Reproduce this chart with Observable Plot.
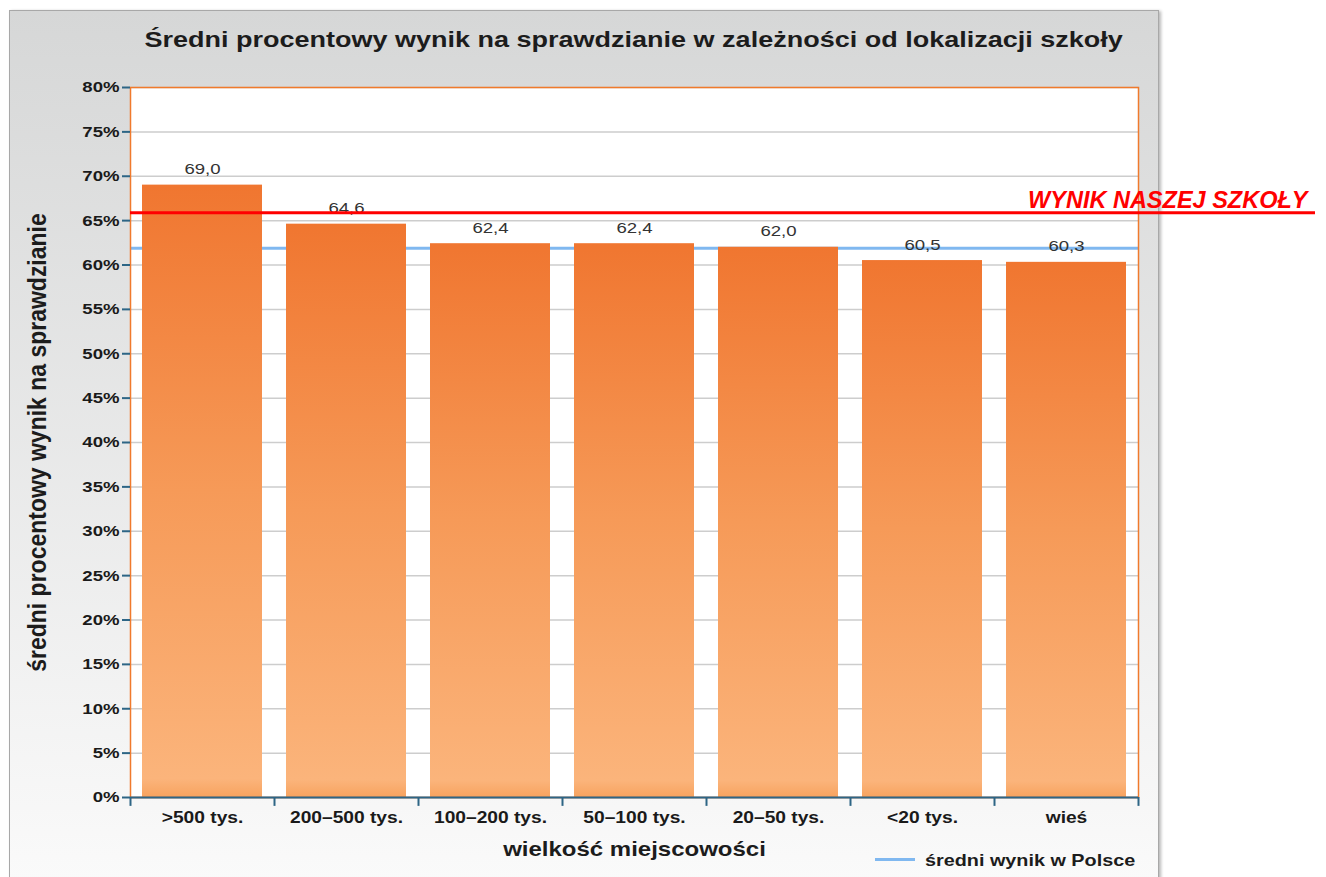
<!DOCTYPE html>
<html>
<head>
<meta charset="utf-8">
<script src="https://cdn.jsdelivr.net/npm/d3@7"></script>
<script src="https://cdn.jsdelivr.net/npm/@observablehq/plot@0.6"></script>
<style>
  body { margin: 0; background: #ffffff; font-family: "Liberation Sans", Arial, sans-serif; }
  #wrap { position: relative; width: 1326px; height: 877px; overflow: hidden; }
  #panel { position: absolute; left: 9px; top: 10px; width: 1148px; height: 900px;
           border: 1.5px solid #a8a8a8;
           background: linear-gradient(#d6d7d7 0px, #fafafa 870px);
           box-shadow: 2px 1px 3px rgba(0,0,0,0.28); }
  #title { position: absolute; left: 130px; width: 1008px; top: 29px; text-align: center;
           font-weight: bold; font-size: 22.5px; line-height: 1; color: #1c1c1c; white-space: nowrap; }
  #title span { display: inline-block; transform: scaleX(1.2); transform-origin: center; }
  #chart { position: absolute; left: 0; top: 0; }
  #legline { position: absolute; left: 875px; top: 858px; width: 40px; height: 3px; background: #80b8f0; }
  #legtext { position: absolute; left: 925px; top: 852px; font-weight: bold; font-size: 16.5px; line-height: 1;
             color: #1c1c1c; white-space: nowrap; transform: scaleX(1.2); transform-origin: left center; }
</style>
</head>
<body>
<div id="wrap">
  <div id="panel"></div>
  <div id="title"><span id="titleText"></span></div>
  <div id="chart"></div>
  <div id="legline"></div>
  <div id="legtext"></div>
</div>
<script>
// ---- data ----
const chartTitle = "Średni procentowy wynik na sprawdzianie w zależności od lokalizacji szkoły";
const yTitle = "średni procentowy wynik na sprawdzianie";
const xTitle = "wielkość miejscowości";
const legendLabel = "średni wynik w Polsce";
const schoolLabel = "WYNIK NASZEJ SZKOŁY";
const categories = [">500 tys.", "200–500 tys.", "100–200 tys.", "50–100 tys.", "20–50 tys.", "<20 tys.", "wieś"];
const values = [69.0, 64.6, 62.4, 62.4, 62.0, 60.5, 60.3];
const polandMean = 61.9;
const schoolResult = 65.9;
const yTicks = [0, 5, 10, 15, 20, 25, 30, 35, 40, 45, 50, 55, 60, 65, 70, 75, 80];

const data = categories.map((c, i) => ({category: c, value: values[i]}));

document.getElementById("titleText").textContent = chartTitle;
document.getElementById("legtext").textContent = legendLabel;

// ---- layout ----
const W = 1326, H = 877, mL = 130, mR = 188, mT = 87, mB = 80;
const halfStep = (W - mL - mR) / categories.length / 2;
const teal = "#2d6585";

const plot = Plot.plot({
  width: W, height: H,
  marginLeft: mL, marginRight: mR, marginTop: mT, marginBottom: mB,
  style: {fontFamily: "'Liberation Sans', Arial, sans-serif", background: "transparent", overflow: "visible"},
  x: {type: "band", domain: categories, padding: 0},
  y: {domain: [0, 80]},
  marks: [
    Plot.frame({fill: "#ffffff", stroke: "none"}),
    Plot.gridY(yTicks, {stroke: "#cdcdcd", strokeOpacity: 1, strokeWidth: 1.5}),
    Plot.ruleY([polandMean], {stroke: "#80b8f0", strokeWidth: 3}),
    Plot.barY(data, {x: "category", y: "value", fill: "url(#barGrad)", insetLeft: 12, insetRight: 12}),
    Plot.text(data, {x: "category", y: "value", text: d => d.value.toFixed(1).replace(".", ","),
      lineAnchor: "bottom", dy: -11, fontSize: 15.5, fill: "#333333"}),
    Plot.frame({stroke: "#f07a2c", strokeWidth: 1.5}),
    Plot.axisY({ticks: yTicks, tickFormat: d => d + "%", tickSize: 8, tickPadding: 3,
      stroke: teal, strokeWidth: 2, fill: "#1a1a1a", fontSize: 15.5, fontWeight: "bold", label: null}),
    Plot.axisX({tickSize: 0, tickPadding: 14, fill: "#1a1a1a", fontSize: 16, fontWeight: "bold", label: null}),
    Plot.ruleY([0], {stroke: teal, strokeWidth: 2}),
    Plot.ruleX(categories, {x: d => d, y1: 0, y2: -1, dx: -halfStep, stroke: teal, strokeWidth: 2}),
    Plot.ruleX(categories.slice(-1), {x: d => d, y1: 0, y2: -1, dx: halfStep, stroke: teal, strokeWidth: 2}),
    Plot.ruleY([schoolResult], {stroke: "#ff0000", strokeWidth: 3}),
    Plot.text([schoolResult], {y: d => d, text: () => schoolLabel, frameAnchor: "right", textAnchor: "end",
      lineAnchor: "bottom", dx: 169, dy: -5, fill: "#ff0000", fontWeight: "bold", fontStyle: "italic", fontSize: 23.5}),
    Plot.text([yTitle], {text: d => d, frameAnchor: "left", textAnchor: "middle", dx: -93, rotate: -90,
      fontSize: 23, fontWeight: "bold", fill: "#1c1c1c"}),
    Plot.text([xTitle], {text: d => d, frameAnchor: "bottom", dy: 58, fontSize: 20, fontWeight: "bold", fill: "#1c1c1c"})
  ]
});

// gradient for bars
const svg = plot;
const defs = d3.select(svg).insert("defs", ":first-child");
const grad = defs.append("linearGradient").attr("id", "barGrad").attr("x1", 0).attr("y1", 0).attr("x2", 0).attr("y2", 1);
grad.append("stop").attr("offset", "0%").attr("stop-color", "#f07630");
grad.append("stop").attr("offset", "50%").attr("stop-color", "#f69a58");
grad.append("stop").attr("offset", "97%").attr("stop-color", "#fbb47b");
grad.append("stop").attr("offset", "100%").attr("stop-color", "#f7a35f");

// extend the school-result line beyond the plot area
svg.querySelectorAll('g[stroke="#ff0000"] line').forEach(l => l.setAttribute("x2", W - 11));

// horizontally stretched lettering, like the original screenshot
svg.querySelectorAll("text").forEach(t => {
  if (t.textContent.includes("WYNIK")) return;
  let tr = t.getAttribute("transform") || "";
  const xa = t.getAttribute("x");
  if (xa !== null && !/em$/.test(xa)) { tr += ` translate(${xa},0)`; t.removeAttribute("x"); }
  const ya = t.getAttribute("y");
  if (ya !== null && !/em$/.test(ya)) { tr += ` translate(0,${ya})`; t.removeAttribute("y"); }
  if (/rotate\(-90\)/.test(tr)) tr += " scale(1,1.15)";
  else tr += " scale(1.2,1)";
  t.setAttribute("transform", tr.trim());
});

document.getElementById("chart").appendChild(svg);
</script>
</body>
</html>
